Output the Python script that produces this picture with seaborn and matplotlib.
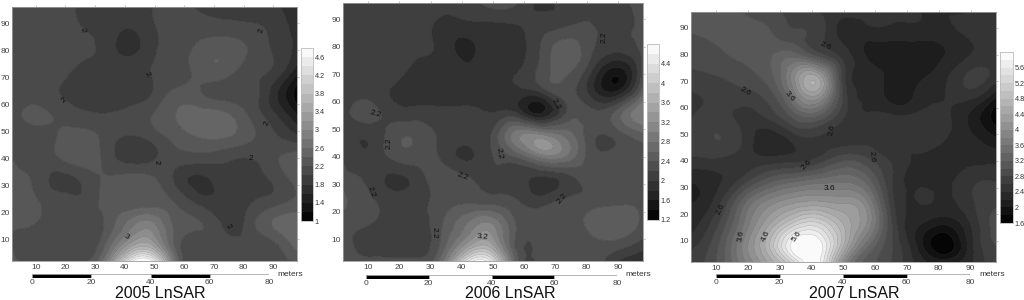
import numpy as np
import matplotlib
matplotlib.use('Agg')
import matplotlib.pyplot as plt
import matplotlib.tri as mtri
import seaborn as sns

# grid nodes, rows below are written from the top of the map to the bottom
x_nodes = [2, 10, 18, 26, 34, 42, 50, 58, 66, 74, 82, 90, 98]
y_nodes = [96, 88, 80, 72, 64, 56, 48, 40, 32, 24, 16, 8, 2]

lnsar_2005 = [
    [2.1, 2.1, 2.1, 1.95, 1.9, 1.9, 2.02, 2.1, 1.95, 1.9, 1.88, 1.85, 1.6],
    [2.1, 2.1, 2.1, 2.0, 1.9, 1.8, 1.98, 2.1, 2.12, 2.1, 2.05, 1.95, 1.7],
    [2.1, 2.1, 2.1, 2.05, 1.9, 1.75, 1.97, 2.12, 2.28, 2.35, 2.18, 1.98, 1.75],
    [2.1, 2.1, 2.08, 1.92, 1.9, 1.92, 2.02, 2.1, 2.3, 2.28, 2.1, 1.95, 1.45],
    [2.1, 2.1, 2.0, 1.9, 1.88, 1.9, 2.03, 2.27, 2.2, 2.12, 2.12, 1.7, 1.1],
    [2.1, 2.25, 2.15, 2.05, 2.02, 2.08, 2.22, 2.42, 2.5, 2.45, 2.18, 1.85, 1.4],
    [2.1, 2.1, 2.22, 2.28, 2.12, 1.98, 2.1, 2.3, 2.42, 2.42, 2.25, 2.05, 1.85],
    [2.2, 2.1, 2.2, 2.3, 2.12, 1.9, 1.98, 2.1, 2.1, 2.05, 2.0, 2.15, 2.32],
    [2.3, 2.15, 1.93, 2.05, 2.22, 2.28, 2.22, 1.92, 1.75, 1.9, 1.92, 2.03, 2.28],
    [2.4, 2.22, 2.1, 2.05, 2.25, 2.27, 2.3, 2.15, 1.9, 1.85, 1.97, 2.1, 2.25],
    [2.25, 2.2, 2.05, 2.05, 2.25, 2.7, 2.8, 2.3, 2.2, 1.95, 2.1, 2.42, 2.55],
    [2.2, 2.03, 2.03, 2.03, 2.45, 3.3, 3.3, 2.25, 2.1, 2.05, 2.05, 2.15, 2.5],
    [2.25, 2.1, 2.1, 2.15, 2.85, 4.5, 4.5, 2.4, 2.15, 2.1, 2.1, 2.15, 2.2],
]

lnsar_2006 = [
    [2.1, 2.1, 2.1, 2.1, 2.1, 2.1, 2.32, 2.2, 1.95, 2.12, 2.12, 2.15, 2.3],
    [2.1, 2.1, 2.1, 2.08, 1.95, 1.95, 1.97, 2.0, 2.1, 2.18, 2.2, 2.12, 2.3],
    [2.1, 2.1, 2.1, 2.05, 1.92, 1.75, 1.95, 1.95, 2.25, 2.5, 2.22, 2.1, 2.25],
    [2.1, 2.1, 2.1, 1.95, 1.93, 1.85, 1.93, 1.98, 2.3, 2.45, 2.0, 1.55, 2.25],
    [2.1, 2.1, 1.98, 1.92, 1.93, 1.95, 1.95, 1.95, 2.1, 2.3, 1.85, 1.6, 2.5],
    [2.1, 2.28, 2.1, 2.08, 2.05, 2.05, 2.0, 1.95, 1.6, 2.25, 2.25, 2.5, 3.0],
    [2.1, 2.05, 2.3, 2.35, 2.15, 2.1, 2.25, 2.95, 3.0, 2.7, 2.25, 2.3, 2.55],
    [2.18, 2.05, 2.25, 2.3, 2.15, 1.97, 2.2, 2.45, 2.9, 2.75, 2.28, 2.3, 2.35],
    [2.28, 2.15, 1.96, 2.1, 2.3, 2.22, 2.15, 2.08, 1.95, 2.12, 2.3, 2.35, 2.35],
    [2.45, 2.25, 2.1, 2.1, 2.3, 2.35, 2.3, 2.2, 2.1, 2.25, 2.3, 2.35, 2.35],
    [2.3, 2.22, 2.1, 2.1, 2.4, 2.8, 2.95, 2.35, 2.3, 2.3, 2.5, 2.55, 2.35],
    [2.3, 2.12, 2.08, 2.08, 2.5, 3.3, 3.4, 2.3, 2.3, 2.25, 2.3, 2.3, 2.1],
    [2.3, 2.25, 2.25, 2.25, 2.8, 4.4, 4.3, 2.4, 2.3, 2.3, 2.3, 2.0, 1.8],
]

lnsar_2007 = [
    [3.1, 3.1, 3.0, 2.85, 2.75, 2.6, 2.5, 2.5, 2.45, 2.4, 2.4, 2.4, 2.5],
    [3.0, 3.05, 3.1, 3.05, 2.85, 2.7, 2.3, 2.3, 2.3, 2.3, 2.32, 2.45, 2.5],
    [2.85, 2.95, 3.05, 3.15, 3.3, 2.9, 2.5, 2.15, 2.08, 2.08, 2.2, 2.4, 2.45],
    [2.75, 2.8, 2.9, 3.1, 3.9, 4.35, 2.7, 2.3, 2.1, 2.15, 2.35, 2.65, 2.5],
    [2.55, 2.65, 2.7, 2.85, 3.6, 4.1, 2.75, 2.35, 2.1, 2.28, 2.4, 2.45, 2.0],
    [2.6, 2.7, 2.55, 2.6, 3.0, 3.1, 2.6, 2.45, 2.45, 2.48, 2.45, 2.15, 1.7],
    [2.65, 2.8, 2.6, 2.25, 2.45, 2.55, 2.5, 2.55, 2.45, 2.5, 2.4, 2.25, 2.05],
    [2.55, 2.55, 2.5, 2.5, 2.55, 2.7, 3.0, 2.85, 2.55, 2.35, 2.35, 2.35, 2.35],
    [2.2, 2.35, 2.7, 3.15, 3.4, 3.55, 3.6, 3.3, 2.55, 2.35, 2.35, 2.55, 2.6],
    [2.2, 2.5, 3.3, 3.9, 4.2, 4.3, 4.2, 3.8, 2.6, 2.4, 2.35, 2.55, 2.75],
    [2.3, 2.75, 3.55, 4.35, 5.1, 5.3, 4.6, 3.9, 2.7, 2.2, 2.0, 2.4, 2.9],
    [2.55, 2.95, 3.8, 4.7, 5.9, 6.0, 4.6, 3.4, 2.75, 2.1, 1.65, 2.3, 2.8],
    [2.65, 3.0, 3.7, 4.4, 5.3, 5.9, 4.0, 3.1, 2.75, 2.3, 2.1, 2.35, 2.75],
]

labels_2005 = [(25.6, 87.5, '2', -80), (86, 87.5, '2', 80), (47.5, 71, '2', -60),
               (19.5, 61.5, '2', 45), (88, 53, '2', 70), (50.5, 38.5, '2', -85),
               (82.5, 40, '2', 0), (75, 14.5, '2', -50), (40.5, 11, '3', -30)]
labels_2006 = [(12.3, 55.7, '2.2', -15), (16.7, 45, '2.2', 90), (11, 27.3, '2.2', -70),
               (31, 12.4, '2.2', -90), (40.4, 32.8, '2.2', -20), (51.8, 41.3, '2.2', -80),
               (72, 24.6, '2.2', 50), (70, 59, '2.2', -60), (85.7, 83.4, '2.2', 90),
               (46.6, 10.9, '3.2', -5)]
labels_2007 = [(44.3, 83, '2.6', -25), (19.2, 65.9, '2.6', -30), (46.3, 51.8, '2.6', 80),
               (38.4, 38.6, '2.6', 45), (59, 41.5, '2.6', -85), (11.2, 21.8, '2.6', 65),
               (33, 64.3, '3.6', -50), (45.6, 29.5, '3.6', 0), (17.7, 11.8, '3.6', 80),
               (25.5, 11.8, '4.6', 65), (35.3, 11.5, '5.6', 55)]

tick_values = [10, 20, 30, 40, 50, 60, 70, 80, 90]
scale_edges = [0, 20, 40, 60, 80]

sns.set_theme(style='white')
plt.rcParams['font.family'] = ['Liberation Sans', 'DejaVu Sans']
gray_map = sns.color_palette('gray', as_cmap=True)

W, H = 1024, 300
fig = plt.figure(figsize=(W / 100, H / 100), dpi=100)


def px_axes(left, top, right, bottom):
    return fig.add_axes([left / W, 1 - bottom / H, (right - left) / W, (bottom - top) / H])


def draw_panel(grid, labels, title, box, bar_box, scale_box, low, high, title_x, meters_x):
    levels = np.arange(low, high + 0.01, 0.2)
    xx, yy = np.meshgrid(x_nodes, y_nodes)
    z = np.array(grid).ravel()

    # matplotlib's own refiner rounds the contours off between the grid nodes
    triang = mtri.Triangulation(xx.ravel().astype(float), yy.ravel().astype(float))
    refiner = mtri.UniformTriRefiner(triang)
    fine_tri, fine_z = refiner.refine_field(z, subdiv=3)
    fine_z = np.clip(fine_z, low + 0.001, high - 0.001)

    ax = px_axes(*box)
    filled = ax.tricontourf(fine_tri, fine_z, levels=levels, cmap=gray_map, vmin=low, vmax=high)
    ax.tricontour(fine_tri, fine_z, levels=levels, colors='#2a2a2a', linewidths=0.3, alpha=0.35)
    ax.set_xlim(2, 98)
    ax.set_ylim(2, 96)
    ax.set_xticks(tick_values)
    ax.set_yticks(tick_values)
    ax.tick_params(labelsize=6, colors='#444444', length=1.5, width=0.5, pad=1,
                   top=True, right=True, left=False, bottom=False, color='#aaaaaa')
    ax.tick_params(axis='y', pad=0)
    for spine in ax.spines.values():
        spine.set_color('#999999')
        spine.set_linewidth(0.6)
    for lx, ly, text, rot in labels:
        ax.text(lx, ly, text, fontsize=6, rotation=rot, ha='center', va='center', color='#111111')

    cax = px_axes(*bar_box)
    bar = fig.colorbar(filled, cax=cax, ticks=np.arange(low, high, 0.4), format='%g')
    bar.ax.tick_params(labelsize=5.2, length=0, pad=1, colors='#333333')
    bar.outline.set_edgecolor('#bbbbbb')
    bar.outline.set_linewidth(0.6)

    sax = px_axes(*scale_box)
    widths = np.diff(scale_edges)
    colors = ['black' if i % 2 == 0 else 'white' for i in range(len(widths))]
    sax.barh([0] * len(widths), widths, left=scale_edges[:-1], height=1, color=colors,
             edgecolor='#999999', linewidth=0.5)
    sax.set_xlim(scale_edges[0], scale_edges[-1])
    sax.set_ylim(-0.5, 0.5)
    sax.set_yticks([])
    sax.set_xticks(scale_edges)
    sax.tick_params(labelsize=6, length=0, pad=1, colors='#444444')
    sns.despine(ax=sax, left=True, bottom=True)

    fig.text(meters_x / W, 1 - 275 / H, 'meters', fontsize=6, ha='center', va='center', color='#333333')
    fig.text(title_x / W, 1 - 293 / H, title, fontsize=11.5, ha='center', va='center', color='#111111')


draw_panel(lnsar_2005, labels_2005, '2005 LnSAR', (12, 7, 297, 261), (301, 48, 313, 221),
           (32, 274, 269, 278), 1.0, 4.8, 160, 290)
draw_panel(lnsar_2006, labels_2006, '2006 LnSAR', (343, 3, 643, 261), (647, 44, 659, 220),
           (366, 275, 617, 279), 1.2, 4.8, 510, 638)
draw_panel(lnsar_2007, labels_2007, '2007 LnSAR', (691, 12, 996, 262), (1000, 52, 1013, 223),
           (716, 274, 970, 278), 1.6, 6.0, 854, 992)

fig.savefig('out.png', dpi=100)
